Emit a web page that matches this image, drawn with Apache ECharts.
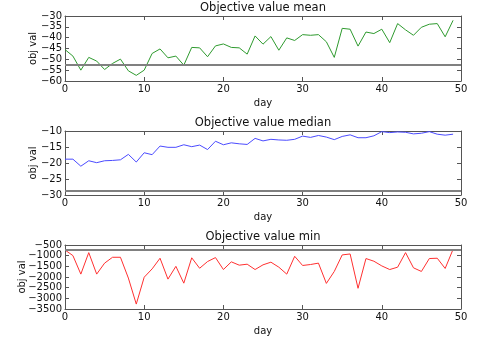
<!DOCTYPE html>
<html><head><meta charset="utf-8">
<script src="https://cdn.jsdelivr.net/npm/echarts@6/dist/echarts.min.js"></script>
<style>html,body{margin:0;padding:0;background:#fff}#c{width:482px;height:341px}</style>
</head><body><div id="c"></div>
<script>
const days = Array.from({length: 50}, (_, i) => i);
const titles = ['Objective value mean', 'Objective value median', 'Objective value min'];
const meanVals = [-45.5,-48.5,-55,-49.1,-50.8,-54.7,-51.9,-49.9,-55.3,-57.4,
  -55,-47.3,-45.2,-49.3,-48.5,-52.7,-44.5,-44.7,-48.8,-43.8,
  -42.9,-44.5,-44.7,-47.6,-39.2,-43,-39.5,-45.8,-40.1,-41.3,
  -38.6,-38.9,-38.6,-41.9,-49.1,-35.7,-36.1,-43.9,-37.4,-38.1,
  -36.1,-42.3,-33.5,-36.4,-38.9,-35.2,-33.8,-33.5,-39.6,-32];
const medianVals = [-18.8,-18.8,-21,-19.3,-19.9,-19.3,-19.2,-19,-17.3,-19.7,
  -16.8,-17.4,-14.7,-15.1,-15.1,-14.3,-14.9,-14.4,-15.8,-13.2,
  -14.3,-13.7,-14,-14.2,-12.3,-13.1,-12.6,-12.8,-12.9,-12.6,
  -11.6,-12,-11.4,-11.9,-12.7,-11.7,-11.2,-12.1,-12.1,-11.5,
  -10.2,-10.5,-10.3,-10.4,-10.9,-10.7,-10.2,-11,-11.3,-11];
const minVals = [-733,-997,-1865,-857,-1865,-1350,-1075,-1075,-2050,-3270,
  -2010,-1620,-1120,-2100,-1500,-2290,-1100,-1590,-1275,-1090,
  -1650,-1290,-1445,-1400,-1650,-1430,-1305,-1540,-1865,-1030,
  -1460,-1415,-1350,-2300,-1740,-965,-920,-2530,-1135,-1260,
  -1480,-1650,-1540,-857,-1570,-1740,-1135,-1120,-1600,-700];
const baselines = [-52.5, -28.6, -730];
const yMins = [-60, -30, -3500];
const yMaxs = [-30, -10, -500];
const yIntervals = [5, 5, 500];

const seriesData = [meanVals, medianVals, minVals];
const colors = ['#2e9a2e', '#4b4bff', '#ff3030'];
const tops = [16, 131, 245];
const heights = [65, 64, 64];
const nameGaps = [27, 27, 38];
const FONT = 'DejaVu Sans';
const fmt = v => String(v).replace('-', '\u2212');
const frame = {lineStyle: {color: '#555', width: 1}};

const grid = [], xAxis = [], yAxis = [], series = [], title = [];
for (let k = 0; k < 3; k++) {
  grid.push({left: 65, width: 396, top: tops[k], height: heights[k]});
  title.push({text: titles[k], left: 263, top: tops[k] - 14, textAlign: 'center', padding: 0,
    textStyle: {fontFamily: FONT, fontSize: 11.5, fontWeight: 'normal', color: '#111'}});
  xAxis.push({type: 'value', gridIndex: k, min: 0, max: 50, interval: 10, position: 'bottom',
    name: 'day', nameLocation: 'middle', nameGap: 17, nameMoveOverlap: false,
    nameTextStyle: {fontFamily: FONT, fontSize: 10, color: '#111'},
    axisLine: {show: true, onZero: false, ...frame},
    axisTick: {inside: true, length: 4, lineStyle: {color: '#555'}},
    axisLabel: {fontFamily: FONT, fontSize: 10, color: '#111', margin: 3, formatter: fmt,
      showMinLabel: true, showMaxLabel: true, hideOverlap: false},
    splitLine: {show: false}});
  xAxis.push({type: 'value', gridIndex: k, min: 0, max: 50, interval: 10, position: 'top',
    axisLine: {show: true, onZero: false, ...frame},
    axisTick: {inside: true, length: 4, lineStyle: {color: '#555'}},
    axisLabel: {show: false}, splitLine: {show: false}});
  yAxis.push({type: 'value', gridIndex: k, min: yMins[k], max: yMaxs[k], interval: yIntervals[k],
    position: 'left', name: 'obj val', nameLocation: 'middle', nameGap: nameGaps[k],
    nameMoveOverlap: false,
    nameTextStyle: {fontFamily: FONT, fontSize: 10, color: '#111'},
    axisLine: {show: true, onZero: false, ...frame},
    axisTick: {inside: true, length: 4, lineStyle: {color: '#555'}},
    axisLabel: {fontFamily: FONT, fontSize: 10, color: '#111', margin: 3, formatter: fmt,
      showMinLabel: true, showMaxLabel: true, hideOverlap: false},
    splitLine: {show: false}});
  yAxis.push({type: 'value', gridIndex: k, min: yMins[k], max: yMaxs[k], interval: yIntervals[k],
    position: 'right',
    axisLine: {show: true, onZero: false, ...frame},
    axisTick: {inside: true, length: 4, lineStyle: {color: '#555'}},
    axisLabel: {show: false}, splitLine: {show: false}});
  series.push({type: 'line', xAxisIndex: 2 * k, yAxisIndex: 2 * k,
    data: days.map((d, i) => [d, seriesData[k][i]]),
    showSymbol: false, lineStyle: {color: colors[k], width: 1}, animation: false,
    markLine: {silent: true, symbol: 'none', animation: false,
      lineStyle: {color: '#808080', width: 2, type: 'solid'}, label: {show: false},
      data: [{yAxis: baselines[k]}]}});
}
const chart = echarts.init(document.getElementById('c'), null, {renderer: 'canvas'});
chart.setOption({animation: false, title, grid, xAxis, yAxis, series});
</script></body></html>
